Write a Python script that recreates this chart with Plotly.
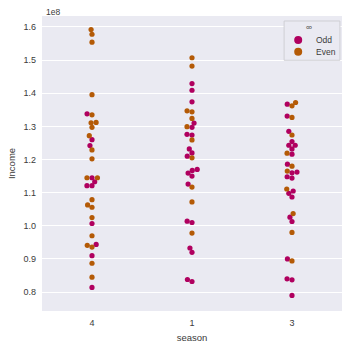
import numpy as np
import plotly.graph_objects as go

# ---- data (Income in units of 1e8) ----
seasons = ["4", "1", "3"]
hue_levels = ["Odd", "Even"]
colors = {"Odd": "#b0005f", "Even": "#b45a06"}

s4_odd = [1.338, 1.260, 1.242, 1.145, 1.133, 1.121, 1.121, 1.007, 0.944, 0.910, 0.814]
s4_even = [1.592, 1.578, 1.554, 1.3955, 1.335, 1.311, 1.312, 1.297, 1.272, 1.229, 1.202,
           1.145, 1.145, 1.079, 1.063, 1.056, 1.025, 0.970, 0.941, 0.936, 0.887, 0.845]
s1_odd = [1.429, 1.409, 1.374, 1.310, 1.297, 1.276, 1.274, 1.232, 1.220, 1.210, 1.170,
          1.167, 1.159, 1.150, 1.126, 1.014, 1.010, 0.933, 0.920, 0.838, 0.832]
s1_even = [1.507, 1.482, 1.347, 1.344, 1.324, 1.299, 1.259, 1.205, 1.117, 1.072, 0.978]
s3_odd = [1.367, 1.331, 1.285, 1.254, 1.243, 1.243, 1.232, 1.216, 1.186, 1.162, 1.160,
          1.148, 1.144, 1.105, 1.098, 1.087, 1.026, 1.013, 0.900, 0.840, 0.837, 0.790]
s3_even = [1.362, 1.372, 1.327, 1.274, 1.219, 1.180, 1.165, 1.111, 1.037, 0.980, 0.894]

data = {
    "4": {"Odd": s4_odd, "Even": s4_even},
    "1": {"Odd": s1_odd, "Even": s1_even},
    "3": {"Odd": s3_odd, "Even": s3_even},
}

Y_RANGE = [0.743, 1.633]
X_RANGE = [-0.5, 2.5]
PLOT_PX = 300
px_per_y = PLOT_PX / (Y_RANGE[1] - Y_RANGE[0])
px_per_x = PLOT_PX / (X_RANGE[1] - X_RANGE[0])
DIAM = 4.8  # marker diameter in px


def beeswarm(values, d):
    """seaborn-like beeswarm: returns pixel offsets for each value."""
    y = np.asarray(values) * px_per_y
    order = np.argsort(y, kind="stable")
    offs = np.zeros(len(y))
    placed = []
    for i in order:
        yi = y[i]
        neigh = [(px, py) for px, py in placed if abs(py - yi) < d]
        cands = [0.0]
        left_first = True
        for px, py in neigh:
            dy = yi - py
            dx = np.sqrt(max(d * d - dy * dy, 0)) * 1.05
            pair = [px - dx, px + dx] if left_first else [px + dx, px - dx]
            cands.extend(pair)
            left_first = not left_first
        cands = np.array(cands)
        cands = cands[np.argsort(np.abs(cands), kind="stable")]
        chosen = cands[0]
        for c in cands:
            if all((c - px) ** 2 + (yi - py) ** 2 >= d * d - 1e-6 for px, py in neigh):
                chosen = c
                break
        offs[i] = chosen
        placed.append((chosen, yi))
    return offs


fig = go.Figure()
xs = {h: [] for h in hue_levels}
ys = {h: [] for h in hue_levels}
for ci, s in enumerate(seasons):
    vals, hues = [], []
    for h in hue_levels:
        vals += data[s][h]
        hues += [h] * len(data[s][h])
    offs = beeswarm(vals, DIAM)
    for v, h, o in zip(vals, hues, offs):
        xs[h].append(ci + o / px_per_x)
        ys[h].append(v)

for h in hue_levels:
    fig.add_trace(go.Scatter(x=xs[h], y=ys[h], mode="markers", showlegend=False, name=h,
                             marker=dict(color=colors[h], size=5.2, line=dict(width=0))))

FONT = "Liberation Sans, Arial, sans-serif"
TXT = "#3a3a3a"

# ---- hand-drawn legend (paper coordinates) ----
shapes = [dict(type="rect", xref="paper", yref="paper", x0=0.807, x1=0.993, y0=0.85, y1=0.983,
               fillcolor="#EAEAF2", line=dict(color="#cfcfd4", width=1), layer="above")]
annotations = [
    dict(text="1e8", xref="paper", yref="paper", x=0.005, y=1.014, xanchor="left",
         yanchor="middle", showarrow=False, font=dict(size=8.5, color=TXT)),
    dict(text="∞", xref="paper", yref="paper", x=0.89, y=0.963, xanchor="center",
         yanchor="middle", showarrow=False, font=dict(size=8.5, color=TXT)),
]
leg_y = {"Odd": 0.919, "Even": 0.879}
for h in hue_levels:
    shapes.append(dict(type="circle", xref="paper", yref="paper", xsizemode="pixel",
                       ysizemode="pixel", xanchor=0.854, yanchor=leg_y[h], x0=-4, x1=4,
                       y0=-4, y1=4, fillcolor=colors[h], line=dict(width=0), layer="above"))
    annotations.append(dict(text=h, xref="paper", yref="paper", x=0.905, y=leg_y[h],
                            xanchor="left", yanchor="middle", showarrow=False,
                            font=dict(size=8.5, color=TXT)))

fig.update_layout(
    width=353, height=353,
    margin=dict(l=42, r=11, t=16, b=37),
    paper_bgcolor="white", plot_bgcolor="#EAEAF2",
    font=dict(family=FONT, size=9, color=TXT),
    showlegend=False,
    xaxis=dict(range=X_RANGE, tickmode="array", tickvals=[0, 1, 2], ticktext=seasons,
               showgrid=False, zeroline=False, showline=False, ticks="",
               ticklabelstandoff=5, tickfont=dict(size=9),
               title=dict(text="season", standoff=7, font=dict(size=9.5))),
    yaxis=dict(range=Y_RANGE, tickvals=[0.8, 0.9, 1.0, 1.1, 1.2, 1.3, 1.4, 1.5, 1.6],
               tickformat=".1f", showgrid=True, gridcolor="white", gridwidth=1,
               zeroline=False, showline=False, ticks="", ticklabelstandoff=5,
               tickfont=dict(size=9),
               title=dict(text="Income", standoff=6, font=dict(size=9.5))),
    shapes=shapes,
    annotations=annotations,
)

fig.write_html("out.html")
